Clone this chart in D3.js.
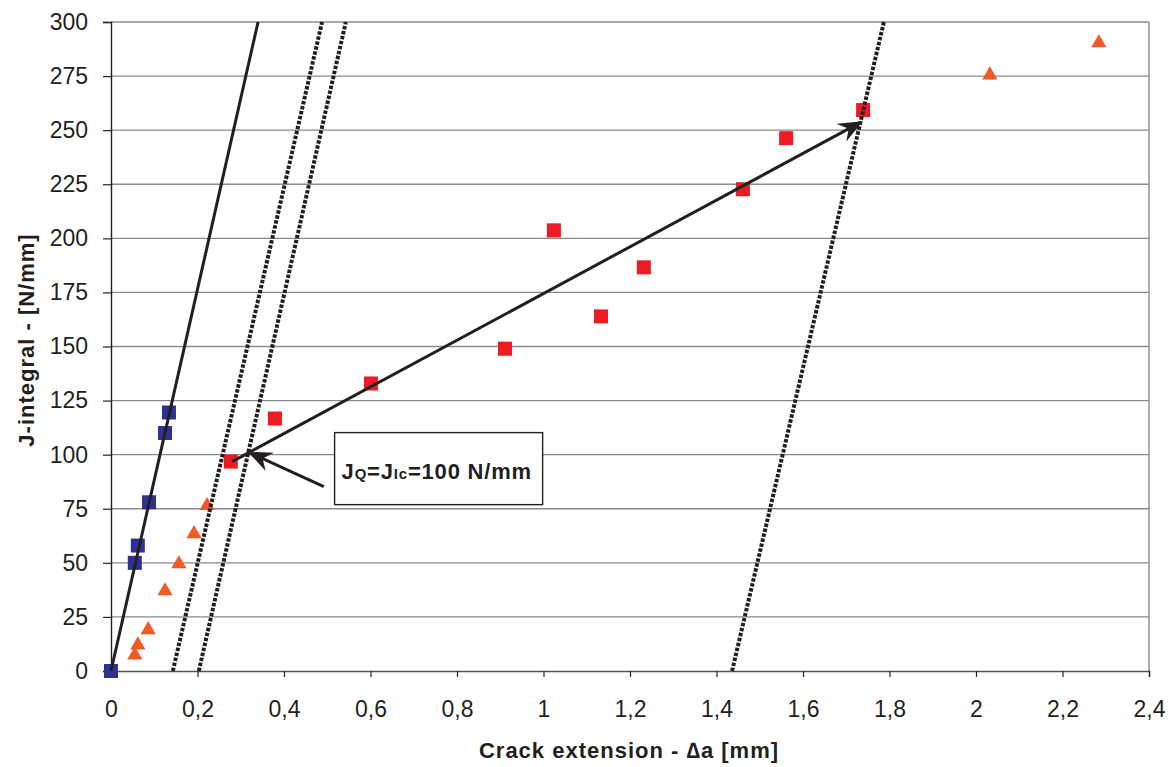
<!DOCTYPE html>
<html>
<head>
<meta charset="utf-8">
<script src="https://cdn.jsdelivr.net/npm/d3@7"></script>
<style>
  body { margin: 0; background: #fff; }
  text { font-family: "Liberation Sans", Arial, sans-serif; }
</style>
</head>
<body>
<script>
// Size of the page
var width = 1172;
var height = 767;
var margin = {top: 22, right: 23, bottom: 96, left: 111};

// Tick values
var xTicks = [0, 0.2, 0.4, 0.6, 0.8, 1, 1.2, 1.4, 1.6, 1.8, 2, 2.2, 2.4];
var yTicks = [0, 25, 50, 75, 100, 125, 150, 175, 200, 225, 250, 275, 300];

// Blue squares (blunting region)
var blueX = [0, 0.055, 0.062, 0.088, 0.125, 0.134];
var blueY = [0, 50, 58, 78, 110, 119.5];

// Orange triangles
var triX = [0.055, 0.062, 0.086, 0.125, 0.157, 0.192, 0.222, 0.379, 0.601, 0.911, 1.024, 1.461, 1.561, 1.739, 2.032, 2.284];
var triY = [7.4, 12, 19, 37, 49.5, 63.4, 76.4, 116, 132, 148, 202.5, 222, 245.5, 259, 275.5, 290.3];

// Red squares (valid data)
var redX = [0.277, 0.379, 0.601, 0.911, 1.024, 1.133, 1.232, 1.461, 1.561, 1.739];
var redY = [96.8, 116.7, 132.9, 149, 203.7, 163.9, 186.6, 222.7, 246.3, 259.3];

// Blunting line and offset (exclusion) lines: [x0, y0, x1, y1]
var bluntLine = [0, 0, 0.340, 300];
var offsetLines = [
  [0.143, 0, 0.488, 300],
  [0.203, 0, 0.543, 300],
  [1.436, 0, 1.787, 300]
];

// Regression arrow and annotation arrow
var fitArrow = [0.280, 96.8, 1.734, 253.7];
var noteArrow = [0.492, 85.2, 0.321, 100.9];
var noteBox = [0.517, 110.2, 0.998, 76.9];

var svg = d3.select("body")
  .append("svg")
  .attr("width", width)
  .attr("height", height);

var x = d3.scaleLinear().domain([0, 2.4]).range([margin.left, width - margin.right]);
var y = d3.scaleLinear().domain([0, 300]).range([height - margin.bottom, margin.top]);

var defs = svg.append("defs");
defs.append("marker")
  .attr("id", "arrow")
  .attr("viewBox", "0 0 12 10")
  .attr("refX", 11)
  .attr("refY", 5)
  .attr("markerWidth", 8)
  .attr("markerHeight", 6.7)
  .attr("markerUnits", "strokeWidth")
  .attr("orient", "auto")
  .append("path")
  .attr("d", "M0,0 L12,5 L0,10 L4,5 Z")
  .attr("fill", "#231f20");

// Gridlines
svg.append("g")
  .selectAll("line")
  .data(yTicks.slice(1))
  .enter()
  .append("line")
  .attr("x1", x(0))
  .attr("x2", x(2.4))
  .attr("y1", function(d) { return y(d); })
  .attr("y2", function(d) { return y(d); })
  .attr("stroke", "#8a8a8a")
  .attr("stroke-width", 1.4);

// Right border
svg.append("line")
  .attr("x1", x(2.4)).attr("x2", x(2.4))
  .attr("y1", y(0)).attr("y2", y(300))
  .attr("stroke", "#8a8a8a")
  .attr("stroke-width", 1.4);

// Axes
var xAxis = svg.append("g")
  .attr("transform", "translate(0," + y(0) + ")")
  .call(d3.axisBottom(x).tickValues(xTicks).tickSize(6).tickPadding(24)
    .tickFormat(function(d) { return String(d).replace(".", ","); }));
xAxis.select(".domain").attr("stroke", "#555").attr("stroke-width", 1.4);
xAxis.selectAll(".tick line").attr("stroke", "#222").attr("stroke-width", 1.2);
xAxis.selectAll("text").attr("font-size", 23).attr("fill", "#231f20")
  .attr("font-family", "Liberation Sans, Arial, sans-serif");

var yAxis = svg.append("g")
  .attr("transform", "translate(" + x(0) + ",0)")
  .call(d3.axisLeft(y).tickValues(yTicks).tickSize(8).tickPadding(15));
yAxis.select(".domain").attr("stroke", "#231f20").attr("stroke-width", 1.4);
yAxis.selectAll(".tick line").attr("stroke", "#222").attr("stroke-width", 1.2);
yAxis.selectAll("text").attr("font-size", 23).attr("fill", "#231f20")
  .attr("font-family", "Liberation Sans, Arial, sans-serif");

// Axis titles
svg.append("text")
  .attr("x", 629)
  .attr("y", 758)
  .attr("text-anchor", "middle")
  .attr("font-size", 22)
  .attr("font-weight", "bold")
  .attr("letter-spacing", 1)
  .attr("fill", "#231f20")
  .text("Crack extension - \u2206a [mm]");

svg.append("text")
  .attr("transform", "translate(34," + 340 + ") rotate(-90)")
  .attr("text-anchor", "middle")
  .attr("font-size", 22)
  .attr("font-weight", "bold")
  .attr("letter-spacing", 1)
  .attr("fill", "#231f20")
  .text("J-integral - [N/mm]");

// Triangles
svg.append("g")
  .selectAll("path")
  .data(d3.range(triX.length))
  .enter()
  .append("path")
  .attr("transform", function(i) { return "translate(" + x(triX[i]) + "," + y(triY[i]) + ")"; })
  .attr("d", d3.symbol().type(d3.symbolTriangle).size(100))
  .attr("fill", "#f15a24");

// Red squares
svg.append("g")
  .selectAll("rect")
  .data(d3.range(redX.length))
  .enter()
  .append("rect")
  .attr("x", function(i) { return x(redX[i]) - 7; })
  .attr("y", function(i) { return y(redY[i]) - 7; })
  .attr("width", 14)
  .attr("height", 14)
  .attr("fill", "#ed1c24");

// Blue squares
svg.append("g")
  .selectAll("rect")
  .data(d3.range(blueX.length))
  .enter()
  .append("rect")
  .attr("x", function(i) { return x(blueX[i]) - 7; })
  .attr("y", function(i) { return y(blueY[i]) - 7; })
  .attr("width", 14)
  .attr("height", 14)
  .attr("fill", "#2e3192");

// Offset lines (dotted)
svg.append("g")
  .selectAll("line")
  .data(offsetLines)
  .enter()
  .append("line")
  .attr("x1", function(d) { return x(d[0]); })
  .attr("y1", function(d) { return y(d[1]); })
  .attr("x2", function(d) { return x(d[2]); })
  .attr("y2", function(d) { return y(d[3]); })
  .attr("stroke", "#231f20")
  .attr("stroke-width", 4)
  .attr("stroke-dasharray", "3.5,1.6");

// Blunting line
svg.append("line")
  .attr("x1", x(bluntLine[0])).attr("y1", y(bluntLine[1]))
  .attr("x2", x(bluntLine[2])).attr("y2", y(bluntLine[3]))
  .attr("stroke", "#231f20")
  .attr("stroke-width", 3);

// Regression arrow
svg.append("line")
  .attr("x1", x(fitArrow[0])).attr("y1", y(fitArrow[1]))
  .attr("x2", x(fitArrow[2])).attr("y2", y(fitArrow[3]))
  .attr("stroke", "#231f20")
  .attr("stroke-width", 3)
  .attr("marker-end", "url(#arrow)");

// Annotation arrow
svg.append("line")
  .attr("x1", x(noteArrow[0])).attr("y1", y(noteArrow[1]))
  .attr("x2", x(noteArrow[2])).attr("y2", y(noteArrow[3]))
  .attr("stroke", "#231f20")
  .attr("stroke-width", 3)
  .attr("marker-end", "url(#arrow)");

// Annotation box
svg.append("rect")
  .attr("x", x(noteBox[0]))
  .attr("y", y(noteBox[1]))
  .attr("width", x(noteBox[2]) - x(noteBox[0]))
  .attr("height", y(noteBox[3]) - y(noteBox[1]))
  .attr("fill", "#fff")
  .attr("stroke", "#231f20")
  .attr("stroke-width", 1.4);

var note = svg.append("text")
  .attr("x", x(noteBox[0]) + 7)
  .attr("y", 479)
  .attr("font-size", 22)
  .attr("font-weight", "bold")
  .attr("letter-spacing", 0.8)
  .attr("fill", "#231f20");
note.append("tspan").text("J");
note.append("tspan").attr("font-size", 15).text("Q");
note.append("tspan").text("=J");
note.append("tspan").attr("font-size", 15).text("Ic");
note.append("tspan").text("=100 N/mm");
</script>
</body>
</html>
